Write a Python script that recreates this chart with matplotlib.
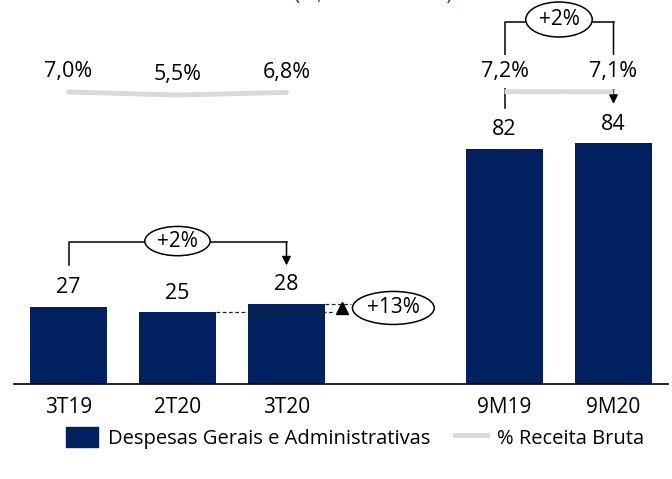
import numpy as np
import matplotlib
matplotlib.use('Agg')
import matplotlib.pyplot as plt
from matplotlib.patches import Ellipse, Patch
from matplotlib.lines import Line2D

# dados do gráfico
categorias = ['3T19', '2T20', '3T20', '9M19', '9M20']
posicoes = [0, 1, 2, 4, 5]
despesas = [27, 25, 28, 82, 84]
pct_receita = [7.0, 5.5, 6.8, 7.2, 7.1]
pct_labels = ['7,0%', '5,5%', '6,8%', '7,2%', '7,1%']
var_tri = '+2%'
var_9m = '+2%'
var_trim = '+13%'

AZUL = '#002060'
CINZA = '#d9d9d9'
FS = 15.5

plt.rcParams['font.family'] = ['Open Sans', 'DejaVu Sans']

fig = plt.figure(figsize=(6.72, 4.79), dpi=100)
ax = fig.add_axes([14 / 672, 95 / 479, 654 / 672, 384 / 479])

# barras
ax.bar(posicoes, despesas, width=0.7, color=AZUL, zorder=2)
for x, v in zip(posicoes, despesas):
    ax.annotate(str(v), (x, v), xytext=(0, 13.5), textcoords='offset points',
                ha='center', va='center', fontsize=FS)

ax.set_xlim(-0.5, 5.5)
ax.set_ylim(0, 133.8)
ax.set_xticks(posicoes)
ax.set_xticklabels(categorias, fontsize=15)
ax.tick_params(axis='x', length=0, pad=9.5)
ax.set_yticks([])
for s in ['top', 'right', 'left']:
    ax.spines[s].set_visible(False)
ax.spines['bottom'].set_linewidth(1.2)

# linha de % receita bruta (eixo secundário)
ax2 = ax.twinx()
ax2.set_ylim(-139, 53)
ax2.axis('off')
ax2.plot(posicoes[:3], pct_receita[:3], color=CINZA, lw=3.5, solid_capstyle='round', zorder=1)
ax2.plot(posicoes[3:], pct_receita[3:], color=CINZA, lw=3.5, solid_capstyle='butt', zorder=1)
for i, (x, p, t) in enumerate(zip(posicoes, pct_receita, pct_labels)):
    kw = {}
    if i >= 3:
        kw['bbox'] = dict(boxstyle='square,pad=0.3', fc='white', ec='none')
    ax2.annotate(t, (x, p), xytext=(0, 14.5), textcoords='offset points',
                 ha='center', va='center', fontsize=FS, zorder=5, **kw)

# colchete trimestral 3T19 -> 3T20
lw_b = 1.1
ax.plot([0, 0, 2], [41.5, 49.5, 49.5], color='black', lw=lw_b, zorder=3)
ax.annotate('', xy=(2, 41.3), xytext=(2, 49.5),
            arrowprops=dict(arrowstyle='-|>', color='black', lw=lw_b, mutation_scale=13,
                            shrinkA=0, shrinkB=0), zorder=3)
ax.add_patch(Ellipse((1.0, 49.8), 0.6, 10.2, fc='white', ec='black', lw=lw_b, zorder=4))
ax.text(1.0, 49.8, var_tri, ha='center', va='center', fontsize=15, zorder=5)

# colchete 9M19 -> 9M20 (em cima)
ax.plot([4, 4, 5], [96.2, 126.1, 126.1], color='black', lw=lw_b, zorder=1)
ax.annotate('', xy=(5, 97.6), xytext=(5, 126.1),
            arrowprops=dict(arrowstyle='-|>', color='black', lw=lw_b, mutation_scale=13,
                            shrinkA=0, shrinkB=0), zorder=1)
ax.add_patch(Ellipse((4.5, 127.0), 0.61, 12.2, fc='white', ec='black', lw=lw_b, zorder=4))
ax.text(4.5, 127.0, var_9m, ha='center', va='center', fontsize=15, zorder=5)

# variação 2T20 -> 3T20
ax.plot([1.35, 2.43], [despesas[1], despesas[1]], color='#222222', lw=0.9, ls=(0, (3, 2)), zorder=3)
ax.plot([2.35, 2.59], [despesas[2], despesas[2]], color='#222222', lw=0.9, ls=(0, (3, 2)), zorder=3)
ax.plot([2.51], [(despesas[1] + despesas[2]) / 2], marker='^', color='black', markersize=8, zorder=3)
ax.add_patch(Ellipse((2.98, 26.5), 0.75, 11.5, fc='white', ec='black', lw=lw_b, zorder=4))
ax.text(2.98, 26.5, var_trim, ha='center', va='center', fontsize=15, zorder=5)

# título cortado no topo
fig.text(0.556, 1.0, '(R$ milhões e %)', ha='center', va='baseline',
         fontsize=15, color='#2b3467')

# legenda
handles = [Patch(color=AZUL, label='Despesas Gerais e Administrativas'),
           Line2D([], [], color=CINZA, lw=3.5, label='% Receita Bruta')]
fig.legend(handles=handles, loc='center', bbox_to_anchor=(0.528, 0.086), ncol=2,
           frameon=False, fontsize=14.5, handlelength=1.6, handleheight=1.2,
           columnspacing=1.2, handletextpad=0.5)

fig.savefig('out.png', dpi=100)
